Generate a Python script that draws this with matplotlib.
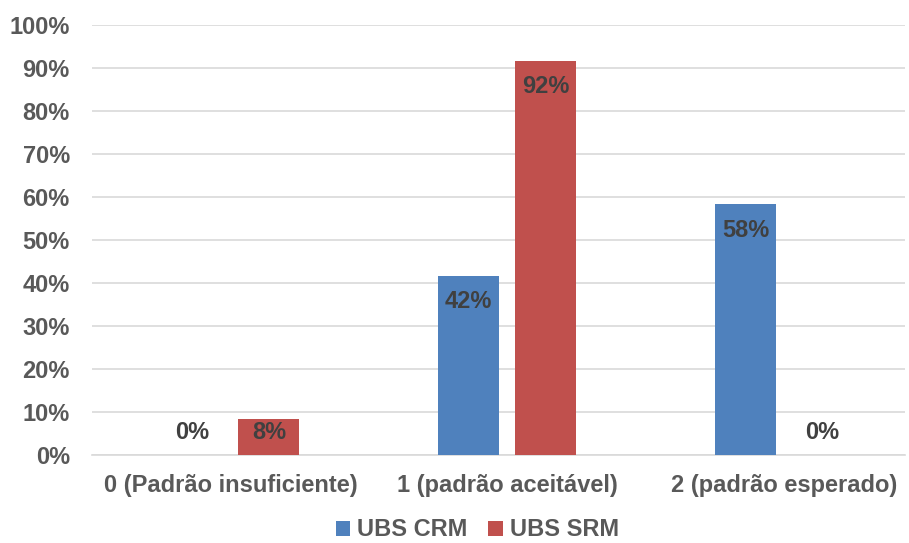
import matplotlib.pyplot as plt
import numpy as np

plt.rcParams['font.family'] = ['Liberation Sans', 'DejaVu Sans']

categories = ["0 (Padrão insuficiente)", "1 (padrão aceitável)", "2 (padrão esperado)"]
crm = [0, 41.7, 58.3]
srm = [8.3, 91.7, 0]
crm_labels = ["0%", "42%", "58%"]
srm_labels = ["8%", "92%", "0%"]

blue = "#4F81BD"
red = "#C0504D"
tick_col = "#595959"
lab_col = "#404040"
fs = 17

fig = plt.figure(figsize=(9.09, 5.43), dpi=100)
ax = fig.add_axes([92 / 909, (543 - 455) / 543, (905 - 92) / 909, 430 / 543])

x = np.arange(len(categories))
w = 0.22
off = 0.139
ax.bar(x - off, crm, w, color=blue, label="UBS CRM", zorder=3)
ax.bar(x + off, srm, w, color=red, label="UBS SRM", zorder=3)

for xs, vals, labs in [(x - off, crm, crm_labels), (x + off, srm, srm_labels)]:
    for xi, v, t in zip(xs, vals, labs):
        ax.text(xi, max(v - 6.1, 5.3), t, ha="center", va="center",
                fontsize=fs, fontweight="bold", color=lab_col, zorder=4)

ax.set_ylim(0, 100)
ax.set_xlim(-0.5, 2.437)
ax.set_yticks(range(0, 101, 10))
ax.set_yticklabels([f"{v}%" for v in range(0, 101, 10)])
ax.set_xticks(x)
ax.set_xticklabels(categories)
ax.yaxis.grid(True, color="#D9D9D9", linewidth=1.2, zorder=0)
for s in ["top", "right", "left"]:
    ax.spines[s].set_visible(False)
ax.spines["bottom"].set_color("#D9D9D9")
ax.spines["bottom"].set_linewidth(1.2)
ax.tick_params(axis="both", length=0, labelsize=fs, labelcolor=tick_col)
ax.tick_params(axis="y", pad=16)
ax.tick_params(axis="x", pad=14)
for t in ax.get_xticklabels() + ax.get_yticklabels():
    t.set_fontweight("bold")

leg = fig.legend(loc="center", bbox_to_anchor=(0.525, (543 - 530) / 543), ncol=2,
                 frameon=False, handlelength=0.6, handleheight=0.6,
                 handletextpad=0.3, columnspacing=0.9, borderpad=0.2,
                 prop={"size": fs, "weight": "bold"})
for t in leg.get_texts():
    t.set_color(tick_col)

fig.savefig("out.png", dpi=100)
